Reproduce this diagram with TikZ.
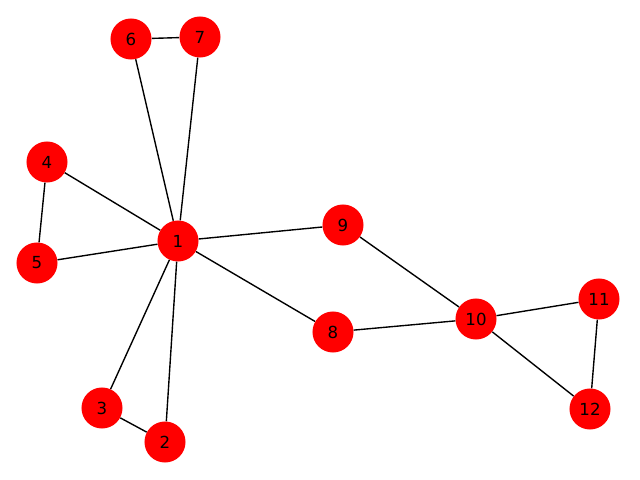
\documentclass[tikz,border=0pt]{standalone}
\usepackage{fontspec}
\setmainfont{DejaVu Sans}
\usetikzlibrary{positioning}
\definecolor{clrnode}{HTML}{FF0000}
\definecolor{clredge}{HTML}{000000}

\begin{document}
\begin{tikzpicture}[
    x=0.01in, y=-0.01in,
    every node/.style={font=\fontsize{12}{14}\selectfont},
    vertex/.style={circle, fill=clrnode, draw=none, minimum size=0.41in,
                   inner sep=0pt, text=black},
    edge/.style={draw=clredge, line width=1pt},
]
\useasboundingbox (0,0) rectangle (640,480);
\node[vertex] (n_1) at (178,241) {1};
\node[vertex] (n_2) at (165,442) {2};
\node[vertex] (n_3) at (102,408) {3};
\node[vertex] (n_4) at (47,162) {4};
\node[vertex] (n_5) at (37,263) {5};
\node[vertex] (n_6) at (131,39) {6};
\node[vertex] (n_7) at (200,37) {7};
\node[vertex] (n_8) at (333,332) {8};
\node[vertex] (n_9) at (343,225) {9};
\node[vertex] (n_10) at (476,319) {10};
\node[vertex] (n_11) at (599,299) {11};
\node[vertex] (n_12) at (590,409) {12};
\draw[edge] (n_1) -- (n_2);
\draw[edge] (n_1) -- (n_3);
\draw[edge] (n_2) -- (n_3);
\draw[edge] (n_1) -- (n_4);
\draw[edge] (n_1) -- (n_5);
\draw[edge] (n_4) -- (n_5);
\draw[edge] (n_1) -- (n_6);
\draw[edge] (n_1) -- (n_7);
\draw[edge] (n_6) -- (n_7);
\draw[edge] (n_1) -- (n_8);
\draw[edge] (n_1) -- (n_9);
\draw[edge] (n_8) -- (n_10);
\draw[edge] (n_9) -- (n_10);
\draw[edge] (n_10) -- (n_11);
\draw[edge] (n_10) -- (n_12);
\draw[edge] (n_11) -- (n_12);
\end{tikzpicture}
\end{document}
